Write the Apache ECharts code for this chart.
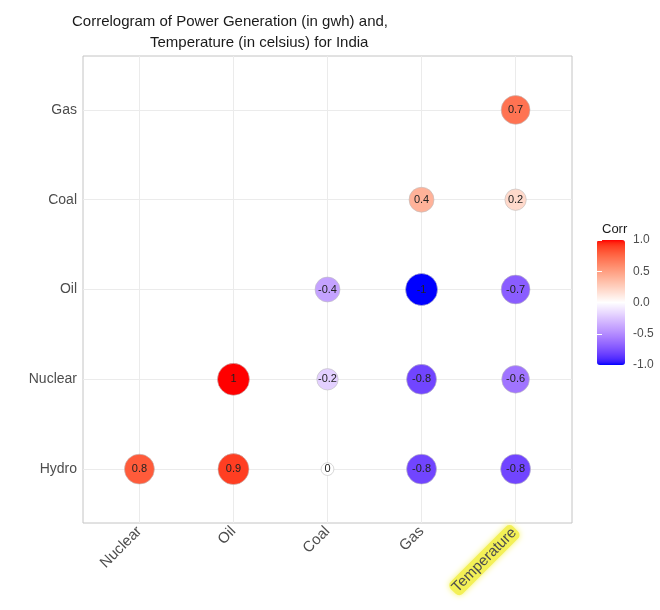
<!DOCTYPE html>
<html>
<head>
<meta charset="utf-8">
<script src="https://cdn.jsdelivr.net/npm/echarts@6/dist/echarts.min.js"></script>
<style>
  html, body { margin: 0; padding: 0; background: #fff; }
  #chart { width: 660px; height: 610px; }
</style>
</head>
<body>
<div id="chart"></div>
<script>
// Variables on each axis
const xCats = ['Nuclear', 'Oil', 'Coal', 'Gas', 'Temperature'];
const yCats = ['Hydro', 'Nuclear', 'Oil', 'Coal', 'Gas'];

// Lower-triangle correlation coefficients, one row per y variable (null = not drawn)
const hydroRow   = [0.8, 0.9, 0, -0.8, -0.8];
const nuclearRow = [null, 1, -0.2, -0.8, -0.6];
const oilRow     = [null, null, -0.4, -1, -0.7];
const coalRow    = [null, null, null, 0.4, 0.2];
const gasRow     = [null, null, null, null, 0.7];
const rows = [hydroRow, nuclearRow, oilRow, coalRow, gasRow];

// --- diverging blue / white / red palette interpolated in CIE Lab ---
function toLin(c) { c /= 255; return c <= 0.04045 ? c / 12.92 : Math.pow((c + 0.055) / 1.055, 2.4); }
function toGam(c) { c = c <= 0.0031308 ? 12.92 * c : 1.055 * Math.pow(c, 1 / 2.4) - 0.055; return Math.round(Math.max(0, Math.min(1, c)) * 255); }
function rgbToLab(rgb) {
  const [R, G, B] = rgb.map(toLin);
  const X = (0.4124 * R + 0.3576 * G + 0.1805 * B) / 0.95047;
  const Y = 0.2126 * R + 0.7152 * G + 0.0722 * B;
  const Z = (0.0193 * R + 0.1192 * G + 0.9505 * B) / 1.08883;
  const f = t => t > 0.008856 ? Math.cbrt(t) : 7.787 * t + 16 / 116;
  const fx = f(X), fy = f(Y), fz = f(Z);
  return [116 * fy - 16, 500 * (fx - fy), 200 * (fy - fz)];
}
function labToRgb(lab) {
  const fy = (lab[0] + 16) / 116, fx = fy + lab[1] / 500, fz = fy - lab[2] / 200;
  const inv = t => t > 0.206893 ? t * t * t : (t - 16 / 116) / 7.787;
  const X = inv(fx) * 0.95047, Y = inv(fy), Z = inv(fz) * 1.08883;
  const R = 3.2406 * X - 1.5372 * Y - 0.4986 * Z;
  const G = -0.9689 * X + 1.8758 * Y + 0.0415 * Z;
  const B = 0.0557 * X - 0.2040 * Y + 1.0570 * Z;
  return 'rgb(' + toGam(R) + ',' + toGam(G) + ',' + toGam(B) + ')';
}
const labBlue = rgbToLab([0, 0, 255]), labWhite = rgbToLab([255, 255, 255]), labRed = rgbToLab([255, 0, 0]);
function mix(a, b, t) { return a.map((v, i) => v + (b[i] - v) * t); }
const paletteStops = [];
for (let i = 0; i <= 40; i++) {
  const v = -1 + i * 0.05;
  paletteStops.push(labToRgb(v < 0 ? mix(labWhite, labBlue, -v) : mix(labWhite, labRed, v)));
}

// Build scatter points: [xIndex, yIndex, r]
const points = [];
rows.forEach((row, yi) => row.forEach((r, xi) => { if (r !== null) points.push([xi, yi, r]); }));

// Circle diameter grows with |r| (area scale, 2..5 size range like ggplot)
const dMin = 12.8, dMax = 32;
const sizeOf = r => dMin + (dMax - dMin) * Math.sqrt(Math.abs(r));

const idx = xCats.map((_, i) => i);
const gridLines = idx.map(i => ({ xAxis: i })).concat(idx.map(i => ({ yAxis: i })));

const chart = echarts.init(document.getElementById('chart'), null, { renderer: 'canvas' });
chart.setOption({
  animation: false,
  backgroundColor: '#ffffff',
  textStyle: { fontFamily: 'Liberation Sans, Arial, sans-serif' },
  title: [
    { text: 'Correlogram of Power Generation (in gwh) and,', left: 67, top: 9,
      textStyle: { fontSize: 15, fontWeight: 'normal', color: '#1a1a1a' } },
    { text: 'Temperature (in celsius) for India', left: 145, top: 30,
      textStyle: { fontSize: 15, fontWeight: 'normal', color: '#1a1a1a' } },
    { text: 'Corr', left: 597, top: 218,
      textStyle: { fontSize: 13, fontWeight: 'normal', color: '#1a1a1a' } }
  ],
  grid: [
    { left: 83, right: 88, top: 56, bottom: 87, show: true, borderColor: '#c4c4c4', borderWidth: 1, backgroundColor: '#ffffff' },
    { left: 597, top: 240, width: 28, height: 125, show: false }
  ],
  xAxis: [
    {
      type: 'value', gridIndex: 0, min: -0.6, max: 4.6,
      splitLine: { show: false }, axisLine: { show: false },
      axisTick: { show: true, length: 3, customValues: idx, lineStyle: { color: '#333' } },
      axisLabel: {
        customValues: idx, rotate: 45, margin: 6, fontSize: 15, color: '#4d4d4d',
        formatter: v => {
          const name = xCats[Math.round(v)];
          return name === 'Temperature' ? '{hl|' + name + '}' : name;
        },
        rich: {
          hl: {
            fontSize: 15, color: '#4d4d4d', backgroundColor: '#f3f057',
            padding: [1, 2], borderRadius: 5, shadowColor: '#f6f36a', shadowBlur: 6
          }
        }
      }
    },
    { type: 'value', gridIndex: 1, show: false, min: 0, max: 1 }
  ],
  yAxis: [
    {
      type: 'value', gridIndex: 0, min: -0.6, max: 4.6,
      splitLine: { show: false }, axisLine: { show: false },
      axisTick: { show: true, length: 3, customValues: idx, lineStyle: { color: '#333' } },
      axisLabel: {
        customValues: idx, margin: 6, fontSize: 14, color: '#4d4d4d',
        formatter: v => yCats[Math.round(v)]
      }
    },
    {
      type: 'value', gridIndex: 1, min: -1, max: 1, interval: 0.5, position: 'right',
      splitLine: { show: false }, axisLine: { show: false },
      axisTick: { show: true, inside: true, length: 5, lineStyle: { color: '#ffffff', width: 1 } },
      axisLabel: { margin: 8, fontSize: 12, color: '#4d4d4d', formatter: v => v.toFixed(1) },
      z: 10
    },
    {
      type: 'value', gridIndex: 1, min: -1, max: 1, interval: 0.5, position: 'left',
      splitLine: { show: false }, axisLine: { show: false },
      axisTick: { show: true, inside: true, length: 5, lineStyle: { color: '#ffffff', width: 1 } },
      axisLabel: { show: false },
      z: 10
    }
  ],
  visualMap: {
    type: 'continuous', min: -1, max: 1, dimension: 2, seriesIndex: 1,
    calculable: false, hoverLink: false,
    left: 597, top: 240, itemWidth: 28, itemHeight: 125, padding: 0,
    text: null, showLabel: false,
    inRange: { color: paletteStops }
  },
  series: [
    {
      // panel grid lines at every category position, kept beneath the circles
      type: 'scatter', xAxisIndex: 0, yAxisIndex: 0, data: [], z: 1, silent: true,
      markLine: {
        z: 1, silent: true, symbol: 'none', label: { show: false },
        lineStyle: { color: '#ebebeb', width: 1, type: 'solid' },
        emphasis: { disabled: true },
        data: gridLines
      }
    },
    {
      type: 'scatter', xAxisIndex: 0, yAxisIndex: 0, z: 3,
      data: points,
      symbolSize: d => sizeOf(d[2]),
      itemStyle: { borderColor: '#bdbdbd', borderWidth: 0.6, opacity: 1 },
      label: {
        show: true, position: 'inside', fontSize: 11, color: '#222',
        formatter: p => String(p.value[2])
      },
      emphasis: { disabled: true }
    }
  ]
});
</script>
</body>
</html>
